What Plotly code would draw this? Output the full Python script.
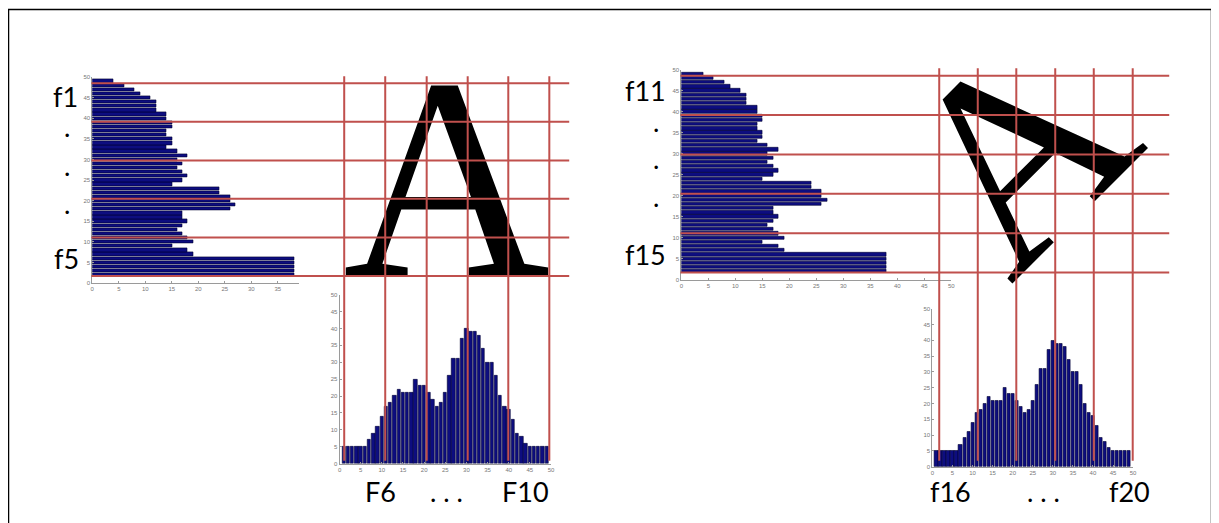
import plotly.graph_objects as go

W, H = 1219, 523
OFF = 8                      # page body margin in the browser
FW, FH = W - OFF, H - OFF    # figure size

# ---------------- data ----------------
row_index = list(range(2, 50))
row_profile = [38, 38, 38, 38, 38, 19, 18, 15, 19, 18,
               17, 16, 17, 18, 17, 17, 26, 27, 26, 26,
               24, 24, 15, 17, 18, 17, 16, 17, 16, 18,
               16, 14, 15, 15, 14, 14, 15, 15, 14, 14,
               12, 12, 12, 11, 9, 8, 6, 4]
col_index = list(range(1, 50))
col_profile = [5, 5, 5, 5, 5, 5, 7, 9, 11, 14,
               17, 18, 20, 22, 21, 21, 21, 25, 23, 23,
               21, 19, 17, 18, 21, 26, 31, 31, 37, 40,
               39, 39, 38, 34, 30, 30, 26, 20, 17, 16,
               13, 9, 8, 6, 5, 5, 5, 5, 5]

row_edges = [1.75, 11.1, 20.5, 29.8, 39.2, 48.55]
col_edges_left = [1.1, 10.8, 20.6, 30.3, 39.9, 49.6]
col_edges_right = [1.7, 11.3, 20.9, 30.6, 40.2, 49.9]

ticks_0_50 = list(range(0, 51, 5))
ticks_0_35 = list(range(0, 36, 5))

left_row_labels = ["f1", ".", ".", ".", "f5"]
right_row_labels = ["f11", ".", ".", ".", "f15"]
left_col_labels = ["F6", ". . .", "F10"]
right_col_labels = ["f16", ". . .", "f20"]

# ---------------- style ----------------
NAVY = "#0d0d80"
RED = "#c0504d"
AX = "#9a9a9a"
TICKF = dict(size=6, color="#777777", family="Liberation Sans")


def px(x):
    return (x - OFF) / FW


def py(y):
    return 1 - (y - OFF) / FH


fig = go.Figure()

bar_style = dict(marker=dict(color=NAVY, line=dict(color="#000030", width=0.6)),
                 hoverinfo="skip", showlegend=False)

fig.add_trace(go.Bar(x=row_profile, y=row_index, orientation="h", width=0.8,
                     xaxis="x", yaxis="y", **bar_style))
fig.add_trace(go.Bar(x=col_index, y=col_profile, width=0.8,
                     xaxis="x2", yaxis="y2", **bar_style))
fig.add_trace(go.Bar(x=row_profile, y=row_index, orientation="h", width=0.8,
                     xaxis="x3", yaxis="y3", **bar_style))
fig.add_trace(go.Bar(x=col_index, y=col_profile, width=0.8,
                     xaxis="x4", yaxis="y4", **bar_style))


def axis(domain, rng, tickvals, anchor):
    return dict(domain=domain, range=rng, anchor=anchor, tickmode="array",
                tickvals=tickvals, showgrid=False, zeroline=False,
                showline=True, linecolor=AX, linewidth=1, ticks="inside",
                ticklen=2, tickcolor=AX, tickfont=TICKF, fixedrange=True)


layout = dict(
    width=FW, height=FH, margin=dict(l=0, r=0, t=0, b=0),
    paper_bgcolor="white", plot_bgcolor="rgba(0,0,0,0)", showlegend=False,
    bargap=0,
    xaxis=axis([px(90.7), px(298)], [0, 38.9], ticks_0_35, "y"),
    yaxis=axis([py(283.3), py(75)], [0, 50], ticks_0_50, "x"),
    xaxis2=axis([px(339.2), px(551.7)], [0, 50], ticks_0_50, "y2"),
    yaxis2=axis([py(466), py(295)], [0, 50], ticks_0_50, "x2"),
    xaxis3=axis([px(682.7), px(954)], [0, 50], ticks_0_50, "y3"),
    yaxis3=axis([py(280), py(67.3)], [0, 50], ticks_0_50, "x3"),
    xaxis4=axis([px(935), px(1136.7)], [0, 50], ticks_0_50, "y4"),
    yaxis4=axis([py(469), py(309.3)], [0, 50], ticks_0_50, "x4"),
)
fig.update_layout(**layout)

annotations = []

# letters
annotations.append(dict(xref="paper", yref="paper", x=px(446.5), y=py(177),
                        text="A", showarrow=False, xanchor="center", yanchor="middle",
                        font=dict(family="Liberation Serif", size=287, color="black")))
annotations.append(dict(xref="paper", yref="paper", x=px(1018), y=py(150),
                        text="A", showarrow=False, xanchor="center", yanchor="middle",
                        textangle=-45,
                        font=dict(family="Liberation Serif", size=272, color="black")))


def hline(yref, yval, xa, xb):
    return dict(xref="paper", yref=yref, x=px(xb), y=yval, ax=-(xb - xa), ay=0,
                axref="pixel", ayref="pixel", text="", showarrow=True, arrowhead=0,
                arrowwidth=2, arrowcolor=RED, standoff=0, startstandoff=0)


def vline(xref, xval, ya, yb):
    return dict(xref=xref, yref="paper", x=xval, y=py(yb), ax=0, ay=-(yb - ya),
                axref="pixel", ayref="pixel", text="", showarrow=True, arrowhead=0,
                arrowwidth=2, arrowcolor=RED, standoff=0, startstandoff=0)


for e in row_edges:
    annotations.append(hline("y", e, 90.7, 570))
    annotations.append(hline("y3", e, 682.7, 1173))
for e in col_edges_left:
    annotations.append(vline("x2", e, 77, 463))
for e in col_edges_right:
    annotations.append(vline("x4", e, 69, 463))

LBL = dict(family="Lato", size=27, color="black")

left_row_pos = [(64, 95), (65, 125), (65, 164), (65, 203), (65, 258)]
right_row_pos = [(647, 88), (657, 120), (657, 157), (657, 196), (647, 254)]
left_col_pos = [(380, 494), (447, 494), (526, 494)]
right_col_pos = [(953, 494), (1047, 494), (1133, 494)]

for lbls, poss in [(left_row_labels, left_row_pos), (right_row_labels, right_row_pos),
                   (left_col_labels, left_col_pos), (right_col_labels, right_col_pos)]:
    for t, (x, y) in zip(lbls, poss):
        annotations.append(dict(xref="paper", yref="paper", x=px(x), y=py(y), text=t,
                                showarrow=False, xanchor="center", yanchor="middle",
                                font=LBL))

fig.update_layout(annotations=annotations)

fig.add_shape(type="rect", xref="paper", yref="paper",
              x0=px(6.5), x1=px(1215.5), y0=py(530), y1=py(6.5),
              line=dict(color="black", width=1.5), fillcolor="rgba(0,0,0,0)")

fig.write_html("out.html")
